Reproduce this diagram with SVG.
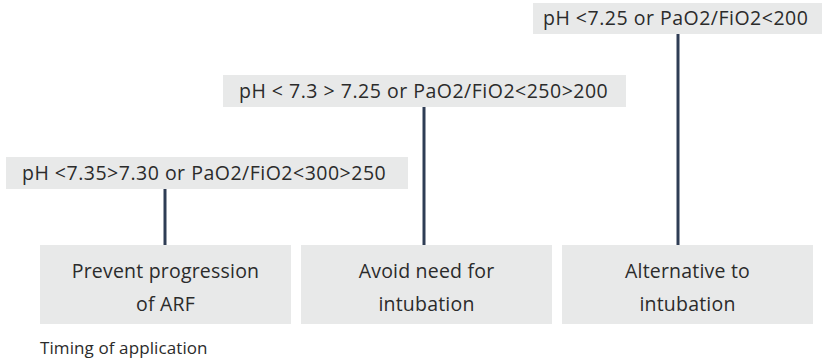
<svg xmlns="http://www.w3.org/2000/svg" width="822" height="363" viewBox="0 0 822 363">
<style>
.box{fill:#e8e9e9}
.t{font-family:"Open Sans","DejaVu Sans",sans-serif;fill:#2b2b2b}
.top{font-size:19.5px;letter-spacing:0.5px}
.bot{font-size:19.5px;text-anchor:middle;letter-spacing:0.2px}
.lbl{font-size:17px;letter-spacing:0.1px}
.conn{stroke:#2f3d55;stroke-width:3;fill:none}
</style>
<rect width="822" height="363" fill="#ffffff"/>
<g id="connectors">
<line class="conn" x1="165" y1="189" x2="165" y2="245"/>
<line class="conn" x1="424" y1="107" x2="424" y2="245"/>
<line class="conn" x1="678" y1="34" x2="678" y2="245"/>
</g>
<g id="cond1">
<rect class="box" x="6" y="157" width="402" height="32"/>
<text class="t top" x="22" y="180">pH &lt;7.35&gt;7.30 or PaO2/FiO2&lt;300&gt;250</text>
</g>
<g id="cond2">
<rect class="box" x="223" y="75" width="403" height="32"/>
<text class="t top" x="239" y="98">pH &lt; 7.3 &gt; 7.25 or PaO2/FiO2&lt;250&gt;200</text>
</g>
<g id="cond3">
<rect class="box" x="533" y="3" width="289" height="31"/>
<text class="t top" x="543" y="25">pH &lt;7.25 or PaO2/FiO2&lt;200</text>
</g>
<g id="goal1">
<rect class="box" x="40" y="245" width="251" height="79"/>
<text class="t bot" x="165.5" y="278">Prevent progression</text>
<text class="t bot" x="165.5" y="311">of ARF</text>
</g>
<g id="goal2">
<rect class="box" x="301" y="245" width="251" height="79"/>
<text class="t bot" x="426.5" y="278">Avoid need for</text>
<text class="t bot" x="426.5" y="311">intubation</text>
</g>
<g id="goal3">
<rect class="box" x="562" y="245" width="251" height="79"/>
<text class="t bot" x="687.5" y="278">Alternative to</text>
<text class="t bot" x="687.5" y="311">intubation</text>
</g>
<g id="caption">
<text class="t lbl" x="40" y="354">Timing of application</text>
</g>
</svg>
